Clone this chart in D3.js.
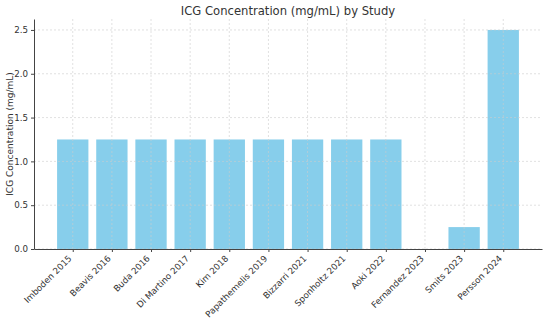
<!DOCTYPE html>
<html>
<head>
<meta charset="utf-8">
<script src="https://cdn.jsdelivr.net/npm/d3@7"></script>
<style>
  body { margin: 0; background: #fff; }
  svg { font-family: 'DejaVu Sans', sans-serif; }
  .tick text { fill: #333; font-size: 8.7px; font-family: 'DejaVu Sans', sans-serif; }
  .axis path, .axis line { stroke: #444; }
  .grid line { stroke: #ccc; stroke-dasharray: 2,2; stroke-width: 0.6; }
</style>
</head>
<body>
<svg id="chart" width="550" height="324"></svg>
<script>
const studies = ["Imboden 2015", "Beavis 2016", "Buda 2016", "Di Martino 2017", "Kim 2018",
  "Papathemelis 2019", "Bizzarri 2021", "Sponholtz 2021", "Aoki 2022", "Fernandez 2023",
  "Smits 2023", "Persson 2024"];
const concentration = [1.25, 1.25, 1.25, 1.25, 1.25, 1.25, 1.25, 1.25, 1.25, 0, 0.25, 2.5];
const yTicks = [0, 0.5, 1.0, 1.5, 2.0, 2.5];

const width = 550, height = 324;
const margin = { top: 19, right: 8, bottom: 75, left: 34 };

const svg = d3.select("#chart");

// index scale, same limits as matplotlib's default margins
const n = studies.length;
const x = d3.scaleLinear()
  .domain([-0.99, n - 1 + 0.99])
  .range([margin.left, width - margin.right]);
const y = d3.scaleLinear()
  .domain([0, 2.625])
  .range([height - margin.bottom, margin.top]);

const barW = x(0.4) - x(-0.4);

svg.selectAll("rect.bar")
  .data(concentration)
  .join("rect")
  .attr("class", "bar")
  .attr("x", (d, i) => x(i) - barW / 2)
  .attr("y", d => y(d))
  .attr("width", barW)
  .attr("height", d => y(0) - y(d))
  .attr("fill", "#87ceeb");

// grid on top of bars
const grid = svg.append("g").attr("class", "grid");
grid.selectAll("line.h")
  .data(yTicks)
  .join("line")
  .attr("class", "h")
  .attr("x1", margin.left).attr("x2", width - margin.right)
  .attr("y1", d => y(d)).attr("y2", d => y(d));
grid.selectAll("line.v")
  .data(d3.range(n))
  .join("line")
  .attr("class", "v")
  .attr("x1", d => x(d)).attr("x2", d => x(d))
  .attr("y1", margin.top).attr("y2", height - margin.bottom);

const xAxis = svg.append("g")
  .attr("class", "axis")
  .attr("transform", `translate(0,${height - margin.bottom})`)
  .call(d3.axisBottom(x).tickValues(d3.range(n)).tickFormat(i => studies[i]).tickSize(3).tickSizeOuter(0));
xAxis.selectAll(".tick text")
  .attr("text-anchor", "end")
  .attr("x", 0)
  .attr("y", 0)
  .attr("dy", 0)
  .attr("transform", "translate(-1,10) rotate(-45)");

svg.append("g")
  .attr("class", "axis")
  .attr("transform", `translate(${margin.left},0)`)
  .call(d3.axisLeft(y).tickValues(yTicks).tickFormat(d3.format(".1f")).tickSize(3).tickSizeOuter(0));

svg.selectAll(".axis .domain").attr("stroke", "#444").attr("stroke-width", 1);

// title
svg.append("text")
  .attr("x", (margin.left + width - margin.right) / 2)
  .attr("y", 15)
  .attr("text-anchor", "middle")
  .attr("font-size", 11.6)
  .attr("fill", "#333")
  .text("ICG Concentration (mg/mL) by Study");

// y label
svg.append("text")
  .attr("transform", `translate(13,${(margin.top + height - margin.bottom) / 2}) rotate(-90)`)
  .attr("text-anchor", "middle")
  .attr("font-size", 9)
  .attr("fill", "#333")
  .text("ICG Concentration (mg/mL)");
</script>
</body>
</html>
